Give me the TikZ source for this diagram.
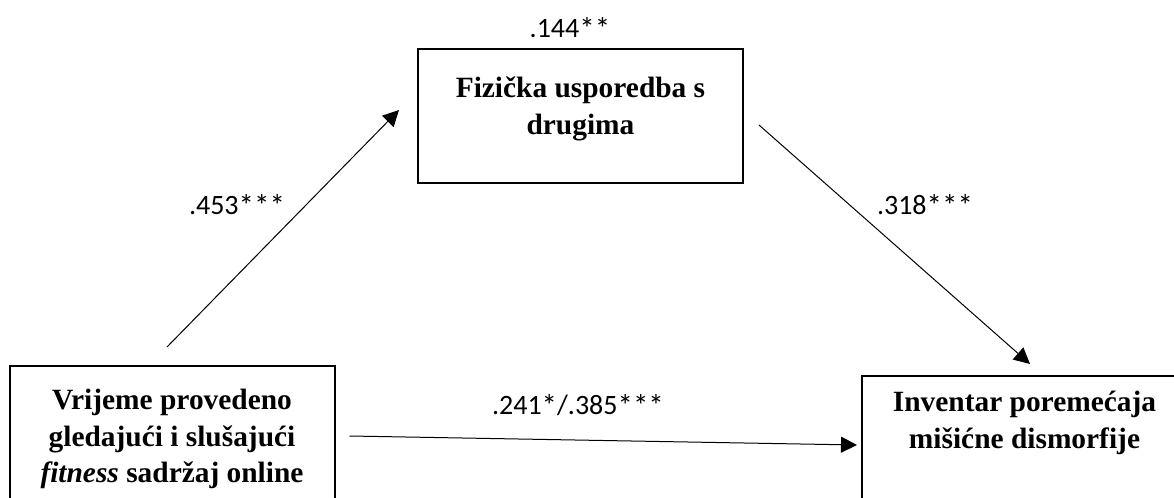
\documentclass[tikz,border=0pt]{standalone}
\usepackage{fontspec}
\setmainfont{Liberation Serif}
\newfontfamily\numfont{Carlito}
\usetikzlibrary{arrows.meta}
\newcommand{\sig}[1]{{\fontsize{15.5}{16}\selectfont\raisebox{-0.8pt}{#1}}}

\begin{document}
\begin{tikzpicture}[x=0.5pt, y=-0.5pt,
  box/.style={shape=rectangle, draw, line width=1pt, minimum width=162.5pt, minimum height=67pt, inner sep=0pt},
  boxtext/.style={align=center, font=\fontsize{14.7}{18.2}\selectfont\bfseries, inner sep=0pt},
  coef/.style={font=\numfont\fontsize{14}{16}\selectfont, inner sep=0pt},
  arr/.style={line width=0.5pt, -{Triangle[length=8pt,width=8pt]}}]
\useasboundingbox (0,0) rectangle (1174,498);

\node[box] (src) at (172,433) {};
\node[box] (med) at (580.5,116) {};
\node[box] (dv) at (1024.5,443) {};

\node[boxtext, yshift=-3pt] (srctxt) at (src) {Vrijeme provedeno\\gledajući i slušajući\\\textit{fitness} sadržaj online};
\node[boxtext, yshift=3.5pt] (medtxt) at (med) {Fizička usporedba s\\drugima};
\node[boxtext, yshift=10pt] (dvtxt) at (dv) {Inventar poremećaja\\mišićne dismorfije};

% arrow ends, kept off the boxes
\coordinate (s1) at ([shift={(-5,-18)}]src.north);
\coordinate (e1) at ([shift={(-18,-6)}]med.west);
\coordinate (s2) at ([shift={(15,9)}]med.east);
\coordinate (e2) at ([shift={(5.5,-11)}]dv.north);
\coordinate (s3) at ([shift={(14,3)}]src.east);
\coordinate (e3) at ([shift={(-4,2)}]dv.west);

\draw[arr] (s1) -- (e1);
\draw[arr] (s2) -- (e2);
\draw[arr] (s3) -- (e3);

\node[coef] (a) at (237,205) {.453\sig{***}};
\node[coef] (b) at (925,205) {.318\sig{***}};
\node[coef] (c) at (570,28) {.144\sig{**}};
\node[coef] (cp) at (578,405) {.241\sig{*}/.385\sig{***}};
\end{tikzpicture}
\end{document}
